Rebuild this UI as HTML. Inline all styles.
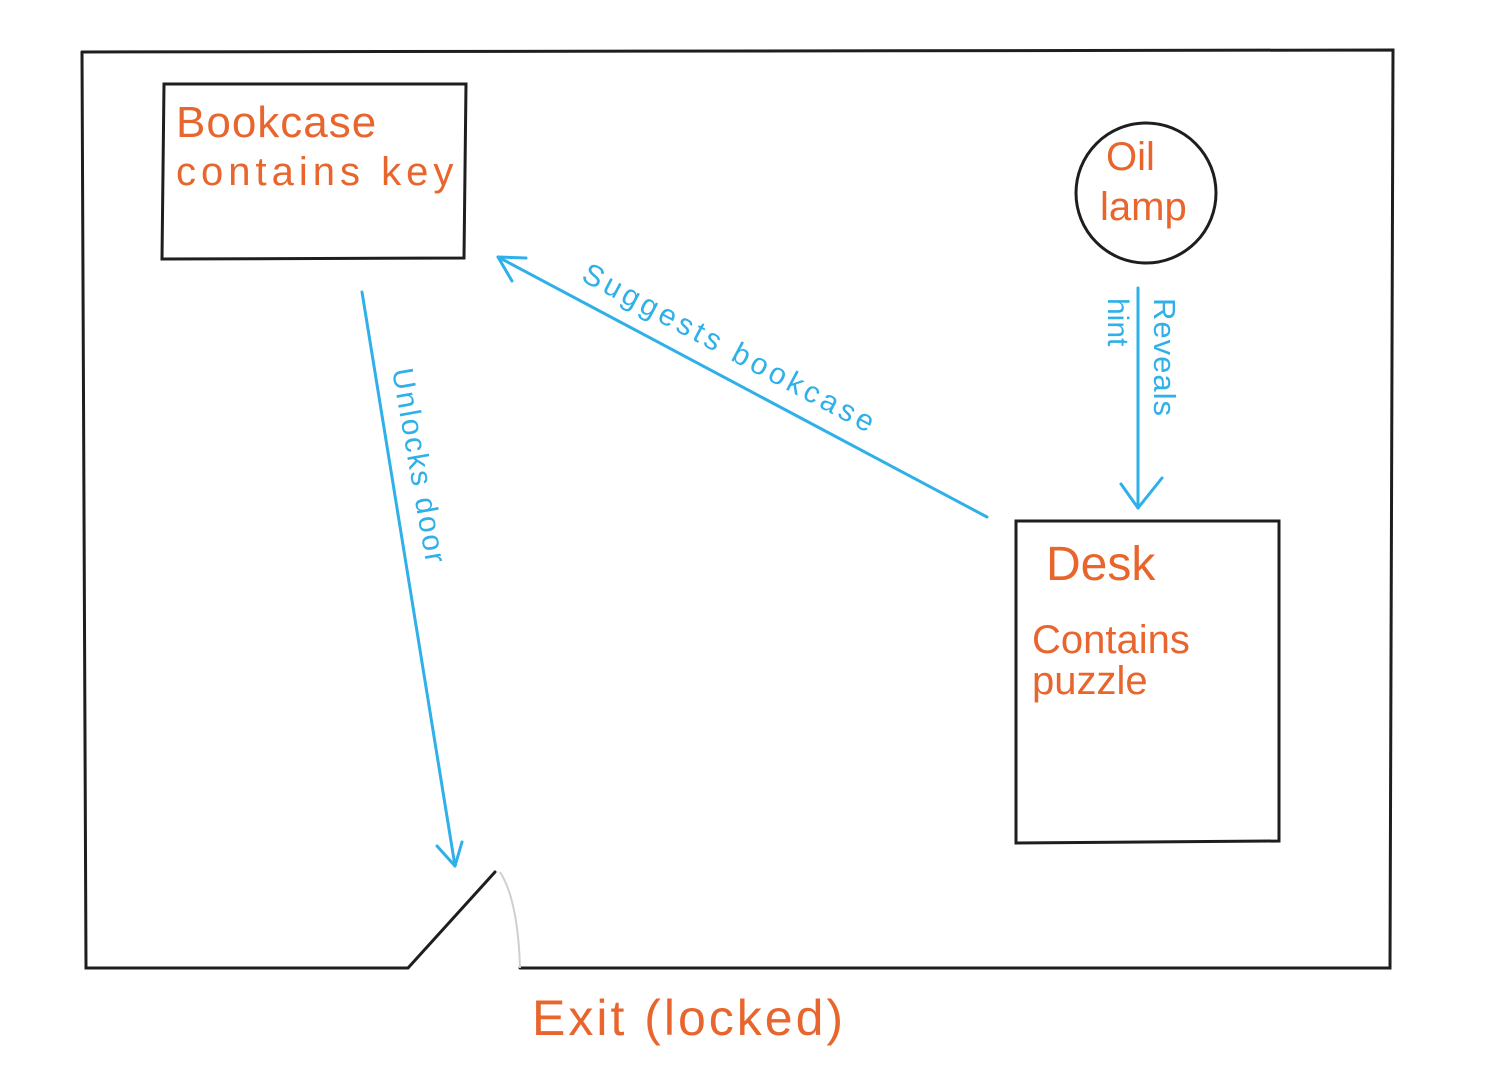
<!DOCTYPE html>
<html><head><meta charset="utf-8"><style>
html,body{margin:0;padding:0;background:#fff;}
svg{display:block;}
text{font-family:"Liberation Sans",sans-serif;}
</style></head><body>
<svg width="1491" height="1074" viewBox="0 0 1491 1074" xmlns="http://www.w3.org/2000/svg">
<g stroke="#1e1e1e" stroke-width="3" fill="none" stroke-linecap="round">
  <path d="M82 52 L1393 50 L1390 968 L520 968"/>
  <path d="M82 52 L86 968 L408 968 L495 872"/>
  <path d="M164 84 L466 84 L464 258 L162 259 Z"/>
  <circle cx="1146" cy="193" r="70"/>
  <path d="M1016 521 L1279 521 L1279 841 L1016 843 Z"/>
</g>
<path d="M500 872 Q518 900 520 968" stroke="#cfcfcf" stroke-width="2" fill="none"/>
<g stroke="#2fb0e8" stroke-width="3" fill="none" stroke-linecap="round" stroke-linejoin="round">
  <path d="M362 292 L455 866"/>
  <path d="M437 846 L455 866 L462 842"/>
  <path d="M987 517 L498 257"/>
  <path d="M512 281 L498 257 L526 258"/>
  <path d="M1138 288 L1138 508"/>
  <path d="M1121 484 L1138 508 L1162 478"/>
</g>
<g fill="#e8662e">
  <text x="176" y="137" font-size="44" letter-spacing="1">Bookcase</text>
  <text x="176" y="185" font-size="40" letter-spacing="5">contains key</text>
  <text x="1106" y="170" font-size="40">Oil</text>
  <text x="1100" y="220" font-size="40">lamp</text>
  <text x="1046" y="580" font-size="48">Desk</text>
  <text x="1032" y="653" font-size="40">Contains</text>
  <text x="1032" y="694" font-size="40">puzzle</text>
  <text x="532" y="1035" font-size="50" letter-spacing="3">Exit (locked)</text>
</g>
<g fill="#2fb0e8" font-size="30">
  <text transform="translate(392,370) rotate(80)" letter-spacing="2">Unlocks door</text>
  <text transform="translate(580,280) rotate(28)" letter-spacing="4">Suggests  bookcase</text>
  <text transform="translate(1154,298) rotate(90)" letter-spacing="1" font-size="31">Reveals</text>
  <text transform="translate(1108,298) rotate(90)">hint</text>
</g>
</svg>
</body></html>
